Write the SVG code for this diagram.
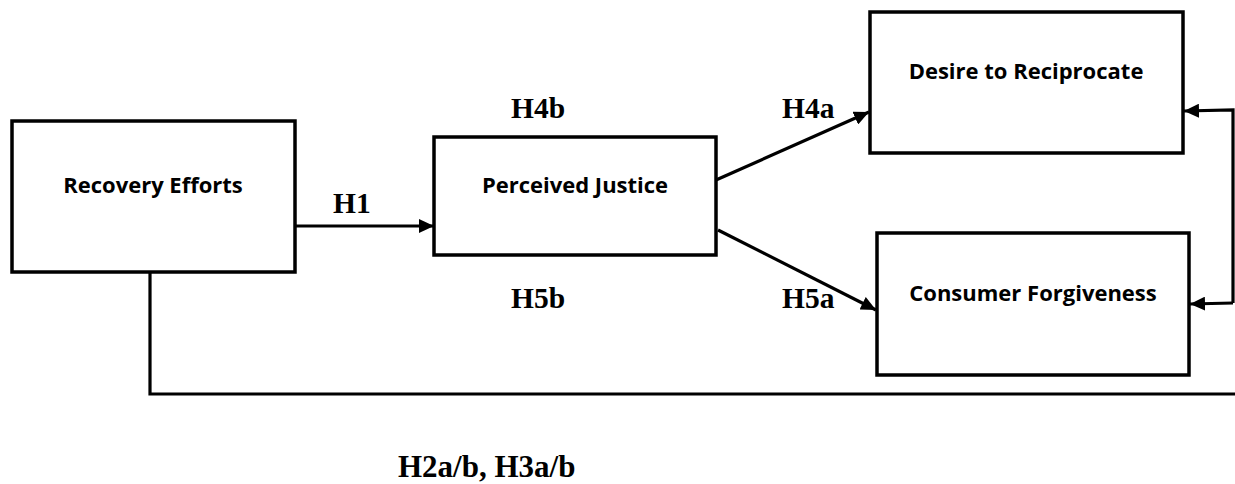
<svg xmlns="http://www.w3.org/2000/svg" width="1235" height="484" viewBox="0 0 1235 484">
  <style>
    .box { fill: #ffffff; stroke: #000000; stroke-width: 3.5; }
    .node-label { font-family: "Open Sans", "Noto Sans", sans-serif; font-weight: 700; font-size: 22px; fill: #000000; text-anchor: middle; }
    .hyp { font-family: "Liberation Serif", "Times New Roman", serif; font-weight: 700; font-size: 29.5px; fill: #000000; }
    .link { fill: none; stroke: #000000; stroke-width: 3.2; }
  </style>
  <defs>
    <marker id="arrow" markerUnits="userSpaceOnUse" markerWidth="16" markerHeight="14" refX="15" refY="7" orient="auto">
      <path d="M0,0 L15,7 L0,14 Z" fill="#000000"/>
    </marker>
  </defs>

  <rect width="1235" height="484" fill="#ffffff"/>

  <!-- connectors -->
  <g id="connectors">
    <line class="link" x1="295" y1="226" x2="434" y2="226" marker-end="url(#arrow)"/>
    <line class="link" x1="716" y1="180" x2="869" y2="112" marker-end="url(#arrow)"/>
    <line class="link" x1="718" y1="230" x2="876" y2="310" marker-end="url(#arrow)"/>
    <polyline class="link" points="150,272 150,394 1235,394"/>
    <polyline class="link" points="1233,303 1233,110 1184,111" marker-end="url(#arrow)"/>
    <line class="link" x1="1233" y1="303" x2="1190" y2="304" marker-end="url(#arrow)"/>
  </g>

  <!-- nodes -->
  <g id="recovery-efforts">
    <rect class="box" x="12" y="121" width="283" height="151"/>
    <text class="node-label" x="153" y="193">Recovery Efforts</text>
  </g>
  <g id="perceived-justice">
    <rect class="box" x="434" y="137" width="282" height="118"/>
    <text class="node-label" x="575" y="193">Perceived Justice</text>
  </g>
  <g id="desire-to-reciprocate">
    <rect class="box" x="870" y="12" width="313" height="141"/>
    <text class="node-label" x="1026" y="79">Desire to Reciprocate</text>
  </g>
  <g id="consumer-forgiveness">
    <rect class="box" x="877" y="233" width="312" height="142"/>
    <text class="node-label" x="1033" y="301">Consumer Forgiveness</text>
  </g>

  <!-- hypothesis labels -->
  <g id="hypotheses">
    <text class="hyp" x="333" y="213">H1</text>
    <text class="hyp" x="511" y="118">H4b</text>
    <text class="hyp" x="782" y="118">H4a</text>
    <text class="hyp" x="511" y="308">H5b</text>
    <text class="hyp" x="782" y="308">H5a</text>
    <text class="hyp" x="398" y="477" style="font-size:31px">H2a/b, H3a/b</text>
  </g>
</svg>
